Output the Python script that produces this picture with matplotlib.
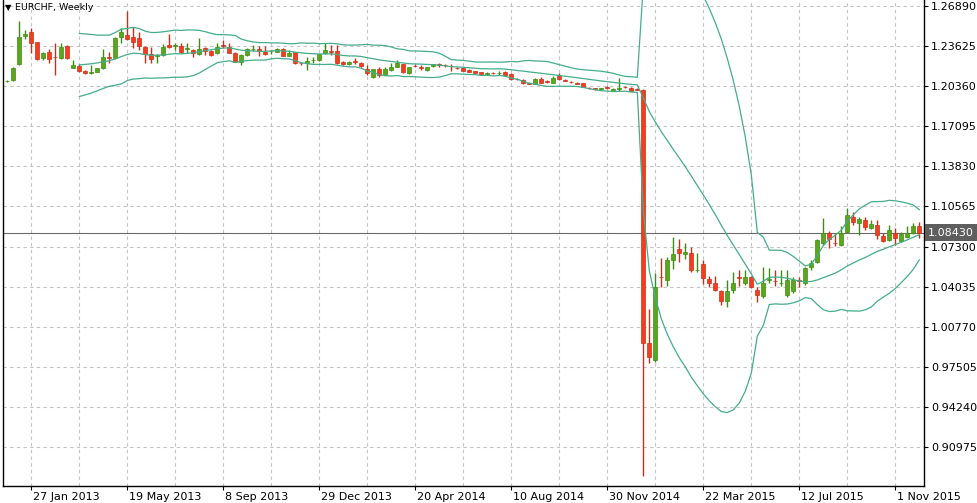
import numpy as np
import pandas as pd
import matplotlib
matplotlib.use('Agg')
import matplotlib.pyplot as plt
import matplotlib.transforms as mtransforms

# Weekly EURCHF candles, first visible week starts 30 Dec 2012
opens = [
    1.2078, 1.2086, 1.2215, 1.2445, 1.2475, 1.2393, 1.2268, 1.2312, 1.2275, 1.2263,
    1.2366, 1.2187, 1.2201, 1.2163, 1.2141, 1.2154, 1.2182, 1.2276, 1.2263, 1.2439,
    1.2453, 1.2434, 1.2431, 1.2358, 1.2296, 1.2282, 1.2290, 1.2371, 1.2364, 1.2364,
    1.2340, 1.2331, 1.2298, 1.2345, 1.2325, 1.2304, 1.2374, 1.2358, 1.2309, 1.2236,
    1.2290, 1.2336, 1.2342, 1.2317, 1.2320, 1.2318, 1.2337, 1.2285, 1.2312, 1.2225,
    1.2223, 1.2246, 1.2250, 1.2304, 1.2325, 1.2323, 1.2233, 1.2215, 1.2244, 1.2228,
    1.2179, 1.2114, 1.2176, 1.2130, 1.2168, 1.2195, 1.2217, 1.2141, 1.2203, 1.2190,
    1.2168, 1.2201, 1.2217, 1.2212, 1.2203, 1.2187, 1.2187, 1.2168, 1.2156, 1.2149,
    1.2138, 1.2146, 1.2140, 1.2154, 1.2136, 1.2098, 1.2087, 1.2063, 1.2054, 1.2093,
    1.2076, 1.2065, 1.2119, 1.2084, 1.2073, 1.2063, 1.2060, 1.2024, 1.2019, 1.2014,
    1.2030, 1.2000, 1.2017, 1.2033, 1.2024, 1.2014, 1.2005, 0.9944, 0.9802, 1.0486,
    1.0459, 1.0617, 1.0709, 1.0671, 1.0681, 1.0537, 1.0588, 1.0465, 1.0432, 1.0364,
    1.0290, 1.0374, 1.0483, 1.0432, 1.0486, 1.0377, 1.0329, 1.0459, 1.0452, 1.0432,
    1.0337, 1.0364, 1.0455, 1.0432, 1.0567, 1.0608, 1.0757, 1.0844, 1.0760, 1.0744,
    1.0852, 1.0974, 1.0925, 1.0947, 1.0880, 1.0904, 1.0817, 1.0784, 1.0844, 1.0779,
    1.0806, 1.0844, 1.0898,
]
highs = [
    1.2090, 1.2190, 1.2567, 1.2494, 1.2508, 1.2394, 1.2312, 1.2339, 1.2386, 1.2390,
    1.2372, 1.2250, 1.2213, 1.2170, 1.2209, 1.2185, 1.2337, 1.2317, 1.2440, 1.2508,
    1.2648, 1.2521, 1.2480, 1.2364, 1.2358, 1.2296, 1.2377, 1.2461, 1.2391, 1.2390,
    1.2388, 1.2337, 1.2426, 1.2358, 1.2331, 1.2390, 1.2412, 1.2390, 1.2312, 1.2296,
    1.2345, 1.2372, 1.2364, 1.2364, 1.2331, 1.2345, 1.2345, 1.2331, 1.2315, 1.2228,
    1.2272, 1.2272, 1.2298, 1.2386, 1.2372, 1.2372, 1.2240, 1.2244, 1.2266, 1.2236,
    1.2209, 1.2180, 1.2190, 1.2195, 1.2223, 1.2250, 1.2220, 1.2195, 1.2217, 1.2209,
    1.2195, 1.2220, 1.2228, 1.2220, 1.2217, 1.2195, 1.2190, 1.2174, 1.2160, 1.2154,
    1.2150, 1.2152, 1.2163, 1.2160, 1.2141, 1.2105, 1.2098, 1.2073, 1.2101, 1.2110,
    1.2087, 1.2119, 1.2141, 1.2093, 1.2079, 1.2068, 1.2065, 1.2030, 1.2024, 1.2025,
    1.2038, 1.2022, 1.2101, 1.2038, 1.2030, 1.2020, 1.2010, 1.0220, 1.0513, 1.0640,
    1.0643, 1.0806, 1.0790, 1.0757, 1.0730, 1.0681, 1.0622, 1.0491, 1.0491, 1.0377,
    1.0459, 1.0526, 1.0540, 1.0540, 1.0491, 1.0404, 1.0567, 1.0554, 1.0540, 1.0540,
    1.0540, 1.0486, 1.0486, 1.0567, 1.0622, 1.0790, 1.0963, 1.0860, 1.0844, 1.0898,
    1.1042, 1.1015, 1.0974, 1.0974, 1.0947, 1.0947, 1.0839, 1.0906, 1.0880, 1.0852,
    1.0898, 1.0925, 1.0933,
]
lows = [
    1.2074, 1.2080, 1.2206, 1.2418, 1.2307, 1.2250, 1.2250, 1.2225, 1.2128, 1.2258,
    1.2260, 1.2182, 1.2154, 1.2136, 1.2136, 1.2150, 1.2175, 1.2225, 1.2258, 1.2386,
    1.2410, 1.2345, 1.2331, 1.2223, 1.2223, 1.2223, 1.2285, 1.2350, 1.2331, 1.2310,
    1.2307, 1.2272, 1.2292, 1.2290, 1.2282, 1.2298, 1.2350, 1.2304, 1.2230, 1.2209,
    1.2285, 1.2325, 1.2282, 1.2290, 1.2296, 1.2312, 1.2280, 1.2280, 1.2217, 1.2212,
    1.2168, 1.2228, 1.2244, 1.2298, 1.2290, 1.2220, 1.2209, 1.2209, 1.2215, 1.2195,
    1.2128, 1.2105, 1.2114, 1.2125, 1.2163, 1.2190, 1.2141, 1.2136, 1.2190, 1.2168,
    1.2163, 1.2195, 1.2195, 1.2195, 1.2163, 1.2174, 1.2160, 1.2150, 1.2141, 1.2130,
    1.2130, 1.2135, 1.2130, 1.2120, 1.2087, 1.2085, 1.2054, 1.2050, 1.2050, 1.2060,
    1.2065, 1.2060, 1.2087, 1.2076, 1.2062, 1.2050, 1.2028, 1.2015, 1.2008, 1.2008,
    1.2015, 1.1995, 1.2000, 1.2020, 1.1995, 1.2003, 0.8858, 0.9781, 0.9786, 1.0404,
    1.0410, 1.0545, 1.0608, 1.0628, 1.0520, 1.0520, 1.0424, 1.0404, 1.0370, 1.0255,
    1.0237, 1.0350, 1.0410, 1.0420, 1.0390, 1.0282, 1.0315, 1.0432, 1.0410, 1.0410,
    1.0320, 1.0350, 1.0404, 1.0420, 1.0540, 1.0600, 1.0740, 1.0717, 1.0736, 1.0736,
    1.0840, 1.0904, 1.0825, 1.0866, 1.0870, 1.0790, 1.0770, 1.0775, 1.0744, 1.0770,
    1.0798, 1.0830, 1.0798,
]
closes = [
    1.2082, 1.2185, 1.2434, 1.2461, 1.2386, 1.2255, 1.2304, 1.2258, 1.2270, 1.2353,
    1.2268, 1.2206, 1.2163, 1.2141, 1.2154, 1.2182, 1.2272, 1.2268, 1.2426, 1.2480,
    1.2418, 1.2399, 1.2366, 1.2296, 1.2255, 1.2290, 1.2356, 1.2359, 1.2371, 1.2317,
    1.2346, 1.2304, 1.2337, 1.2325, 1.2290, 1.2353, 1.2366, 1.2309, 1.2236, 1.2290,
    1.2337, 1.2341, 1.2322, 1.2298, 1.2325, 1.2339, 1.2285, 1.2309, 1.2223, 1.2221,
    1.2244, 1.2250, 1.2296, 1.2331, 1.2317, 1.2228, 1.2215, 1.2236, 1.2236, 1.2201,
    1.2141, 1.2174, 1.2128, 1.2174, 1.2195, 1.2223, 1.2154, 1.2190, 1.2198, 1.2182,
    1.2190, 1.2215, 1.2212, 1.2206, 1.2198, 1.2182, 1.2163, 1.2154, 1.2146, 1.2136,
    1.2142, 1.2141, 1.2146, 1.2128, 1.2093, 1.2093, 1.2060, 1.2057, 1.2093, 1.2065,
    1.2073, 1.2101, 1.2093, 1.2081, 1.2067, 1.2056, 1.2032, 1.2019, 1.2013, 1.2019,
    1.2025, 1.2016, 1.2024, 1.2027, 1.2000, 1.2009, 0.9944, 0.9830, 1.0399, 1.0478,
    1.0622, 1.0670, 1.0674, 1.0689, 1.0540, 1.0543, 1.0472, 1.0432, 1.0377, 1.0290,
    1.0364, 1.0437, 1.0476, 1.0481, 1.0404, 1.0337, 1.0437, 1.0465, 1.0446, 1.0437,
    1.0459, 1.0459, 1.0450, 1.0554, 1.0600, 1.0784, 1.0844, 1.0790, 1.0755, 1.0839,
    1.0985, 1.0933, 1.0953, 1.0888, 1.0915, 1.0825, 1.0779, 1.0866, 1.0798, 1.0830,
    1.0844, 1.0898, 1.0843,
]
# closes of the 7 weeks scrolled off the left edge (they feed the 20-week bands)
hist_closes = [1.2050, 1.2052, 1.2046, 1.2080, 1.2100, 1.2120, 1.2105]

price_ticks = [1.26890, 1.23625, 1.20360, 1.17095, 1.13830, 1.10565,
               1.07300, 1.04035, 1.00770, 0.97505, 0.94240, 0.90975]
last_price = 1.08430
BB_PERIOD = 20
BB_DEV = 2

o = np.array(opens)
h = np.array(highs)
l = np.array(lows)
c = np.array(closes)
x = np.arange(len(c))
weeks = pd.date_range('2012-12-30', periods=len(c), freq='W-SUN')

# Bollinger bands on weekly closes
s = pd.Series(hist_closes + closes)
mid = s.rolling(BB_PERIOD).mean()
sd = s.rolling(BB_PERIOD).std(ddof=0)
n0 = len(hist_closes)
bb_mid = mid.values[n0:]
bb_up = (mid + BB_DEV * sd).values[n0:]
bb_lo = (mid - BB_DEV * sd).values[n0:]

BULL = '#5ba61e'
BULL_EDGE = '#3f8c12'
BEAR = '#f43d1e'
BEAR_EDGE = '#c9301b'
BAND = '#44ad8a'
GRID = '#c4c4c4'

fig = plt.figure(figsize=(9.77, 5.03), dpi=100)
ax = fig.add_axes([3 / 977, 17 / 503, 921 / 977, 486 / 503])

up = c >= o
ax.vlines(x, l, h, colors=np.where(up, BULL_EDGE, BEAR_EDGE), lw=1, zorder=2)
ax.bar(x, np.maximum(np.abs(c - o), 0.0004), bottom=np.minimum(o, c),
       width=0.7, color=np.where(up, BULL, BEAR),
       edgecolor=np.where(up, BULL_EDGE, BEAR_EDGE), linewidth=0.5, zorder=2)

for band in (bb_up, bb_mid, bb_lo):
    ax.plot(x, band, color=BAND, lw=0.9, zorder=3)

ax.axhline(last_price, color='#6b6b6b', lw=0.8, zorder=1.5)

ax.set_xlim(-0.72, 152.78)
ax.set_ylim(0.87799, 1.27379)

# axes, ticks and grid
ax.yaxis.tick_right()
ax.set_yticks(price_ticks)
ax.set_yticklabels([f'{v:.5f}' for v in price_ticks])
ax.tick_params(axis='y', direction='out', length=3, pad=2, labelsize=8,
               color='black', labelcolor='black')

major_idx = list(range(4, len(c), 16))
ax.set_xticks(major_idx)
ax.set_xticklabels([f'{weeks[i].day} {weeks[i]:%b %Y}' for i in major_idx])
ax.set_xticks(list(range(4, len(c), 8)), minor=True)
ax.tick_params(axis='x', which='major', direction='out', length=3, pad=1, labelsize=8)
ax.tick_params(axis='x', which='minor', length=0)
shift = mtransforms.ScaledTranslation(2 / 100, 0, fig.dpi_scale_trans)
for lab in ax.get_xticklabels():
    lab.set_horizontalalignment('left')
    lab.set_transform(lab.get_transform() + shift)

ax.grid(True, axis='y', color=GRID, ls=(0, (3, 3)), lw=0.8)
ax.grid(True, axis='x', which='both', color=GRID, ls=(0, (3, 3)), lw=0.8)
ax.set_axisbelow(True)

ax.spines['top'].set_visible(False)
for side in ('left', 'bottom', 'right'):
    ax.spines[side].set_color('black')
    ax.spines[side].set_linewidth(1)

# last price marker on the price scale
ax.annotate(f'{last_price:.5f}', xy=(1.0, last_price),
            xycoords=('axes fraction', 'data'),
            xytext=(3, 0), textcoords='offset points',
            ha='left', va='center', fontsize=8, color='white',
            bbox=dict(boxstyle='square,pad=0.3', fc='#5e5e5e', ec='none'),
            annotation_clip=False, zorder=5)

fig.text(5 / 977, 1 - 8 / 503, '\u25bc', fontsize=6, va='center', ha='left')
fig.text(15 / 977, 1 - 8 / 503, 'EURCHF, Weekly', fontsize=6.8, va='center', ha='left')

fig.savefig('out.png', dpi=100, facecolor='white')
